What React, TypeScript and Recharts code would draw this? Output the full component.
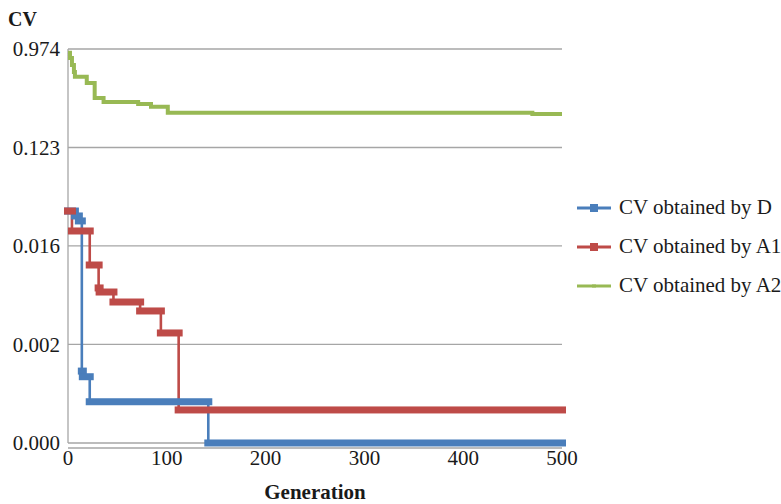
import { CartesianGrid, Line, LineChart, ReferenceLine, XAxis, YAxis } from "recharts";

// generation breakpoints (step changes) and CV values per method
const dGen = [0, 7, 11, 14, 15, 22, 142, 500];
const dCv = [0.0325, 0.0293, 0.0264, 0.00113, 0.001004, 0.000594, 0.00025, 0.00025];

const a1Gen = [0, 4, 22, 31, 32, 46, 73, 94, 112, 500];
const a1Cv = [0.0325, 0.02138, 0.01047, 0.00647, 0.00594, 0.004816, 0.003991, 0.002515, 0.0005, 0.0005];

const a2Gen = [0, 2, 4, 6, 7, 19, 27, 36, 71, 84, 101, 470, 500];
const a2Cv = [0.901, 0.806, 0.696, 0.601, 0.545, 0.477, 0.348, 0.32, 0.307, 0.29, 0.256, 0.249, 0.249];

const xTicks = [0, 100, 200, 300, 400, 500];
const yTicks = [0.00025, 0.001976, 0.01561, 0.1233, 0.974];

const seriesNames = ["CV obtained by D", "CV obtained by A1", "CV obtained by A2"];

const C = {
  d: "#4a7ebb",
  a1: "#be4b48",
  a2: "#98b954",
  grid: "#a6a6a6",
  text: "#1a1a1a",
};

const FONT = '"Liberation Serif", "Times New Roman", serif';

const toRows = (gen: number[], cv: number[]) => gen.map((g, i) => ({ gen: g, cv: cv[i] }));

const dData = toRows(dGen, dCv);
const a1Data = toRows(a1Gen, a1Cv);
const a2Data = toRows(a2Gen, a2Cv);

// thick horizontal bar for each step (Excel's dense square markers)
function stepBar(color: string, h: number) {
  return (props: any) => {
    const { cx, cy, index, points } = props;
    const next = points && points[index + 1];
    if (cx == null || cy == null || !next) return <g key={`b${color}${index}`} />;
    return (
      <rect
        key={`b${color}${index}`}
        x={cx - 4}
        y={cy - h / 2}
        width={next.x - cx + 8}
        height={h}
        fill={color}
      />
    );
  };
}

const tickStyle = { fontSize: 21, fill: C.text, fontFamily: FONT };

function LegendRow({ color, label, marker }: { color: string; label: string; marker: boolean }) {
  return (
    <div style={{ display: "flex", alignItems: "center", height: 39 }}>
      <svg width={36} height={12} style={{ marginRight: 7 }}>
        <line x1={1} y1={6} x2={35} y2={6} stroke={color} strokeWidth={3} />
        {marker ? <rect x={14} y={2} width={8} height={8} fill={color} /> : <rect x={16} y={4.5} width={4} height={3} fill={color} />}
      </svg>
      <span style={{ fontSize: 21, color: C.text, fontFamily: FONT, whiteSpace: "nowrap" }}>{label}</span>
    </div>
  );
}

export default function App() {
  return (
    <div style={{ position: "absolute", left: 0, top: 0, width: 781, height: 504, background: "#fff" }}>
      <LineChart width={781} height={504} margin={{ top: 49, right: 219, bottom: 0, left: 8 }}>
        <CartesianGrid stroke={C.grid} strokeWidth={1.3} vertical={false} />
        <XAxis
          type="number"
          dataKey="gen"
          domain={[0, 500]}
          ticks={xTicks}
          axisLine={false}
          tickLine={false}
          tickSize={0}
          tickMargin={2}
          tick={tickStyle}
          height={56}
          allowDuplicatedCategory={false}
          label={{
            value: "Generation",
            position: "insideBottom",
            offset: 5,
            style: { fontSize: 21, fontWeight: "bold", fill: C.text, fontFamily: FONT },
          }}
        />
        <YAxis
          scale="log"
          domain={[0.000225, 0.974]}
          ticks={yTicks}
          axisLine={false}
          tickLine={false}
          tickSize={0}
          tickMargin={8}
          tick={tickStyle}
          width={60}
          tickFormatter={(v: number) => v.toFixed(3)}
        />
        <ReferenceLine
          segment={[
            { x: 0, y: yTicks[0] },
            { x: 0, y: yTicks[yTicks.length - 1] },
          ]}
          stroke={C.grid}
          strokeWidth={1.3}
        />
        <Line
          data={dData}
          dataKey="cv"
          type="stepAfter"
          stroke={C.d}
          strokeWidth={2.6}
          dot={stepBar(C.d, 7)}
          isAnimationActive={false}
        />
        <Line
          data={a1Data}
          dataKey="cv"
          type="stepAfter"
          stroke={C.a1}
          strokeWidth={2.6}
          dot={stepBar(C.a1, 7)}
          isAnimationActive={false}
        />
        <Line
          data={a2Data}
          dataKey="cv"
          type="stepAfter"
          stroke={C.a2}
          strokeWidth={4}
          dot={false}
          isAnimationActive={false}
        />
      </LineChart>
      <div
        style={{
          position: "absolute",
          left: 8,
          top: 8,
          fontSize: 20,
          fontWeight: "bold",
          color: C.text,
          fontFamily: FONT,
        }}
      >
        CV
      </div>
      <div style={{ position: "absolute", left: 576, top: 188 }}>
        <LegendRow color={C.d} label={seriesNames[0]} marker />
        <LegendRow color={C.a1} label={seriesNames[1]} marker />
        <LegendRow color={C.a2} label={seriesNames[2]} marker={false} />
      </div>
    </div>
  );
}
